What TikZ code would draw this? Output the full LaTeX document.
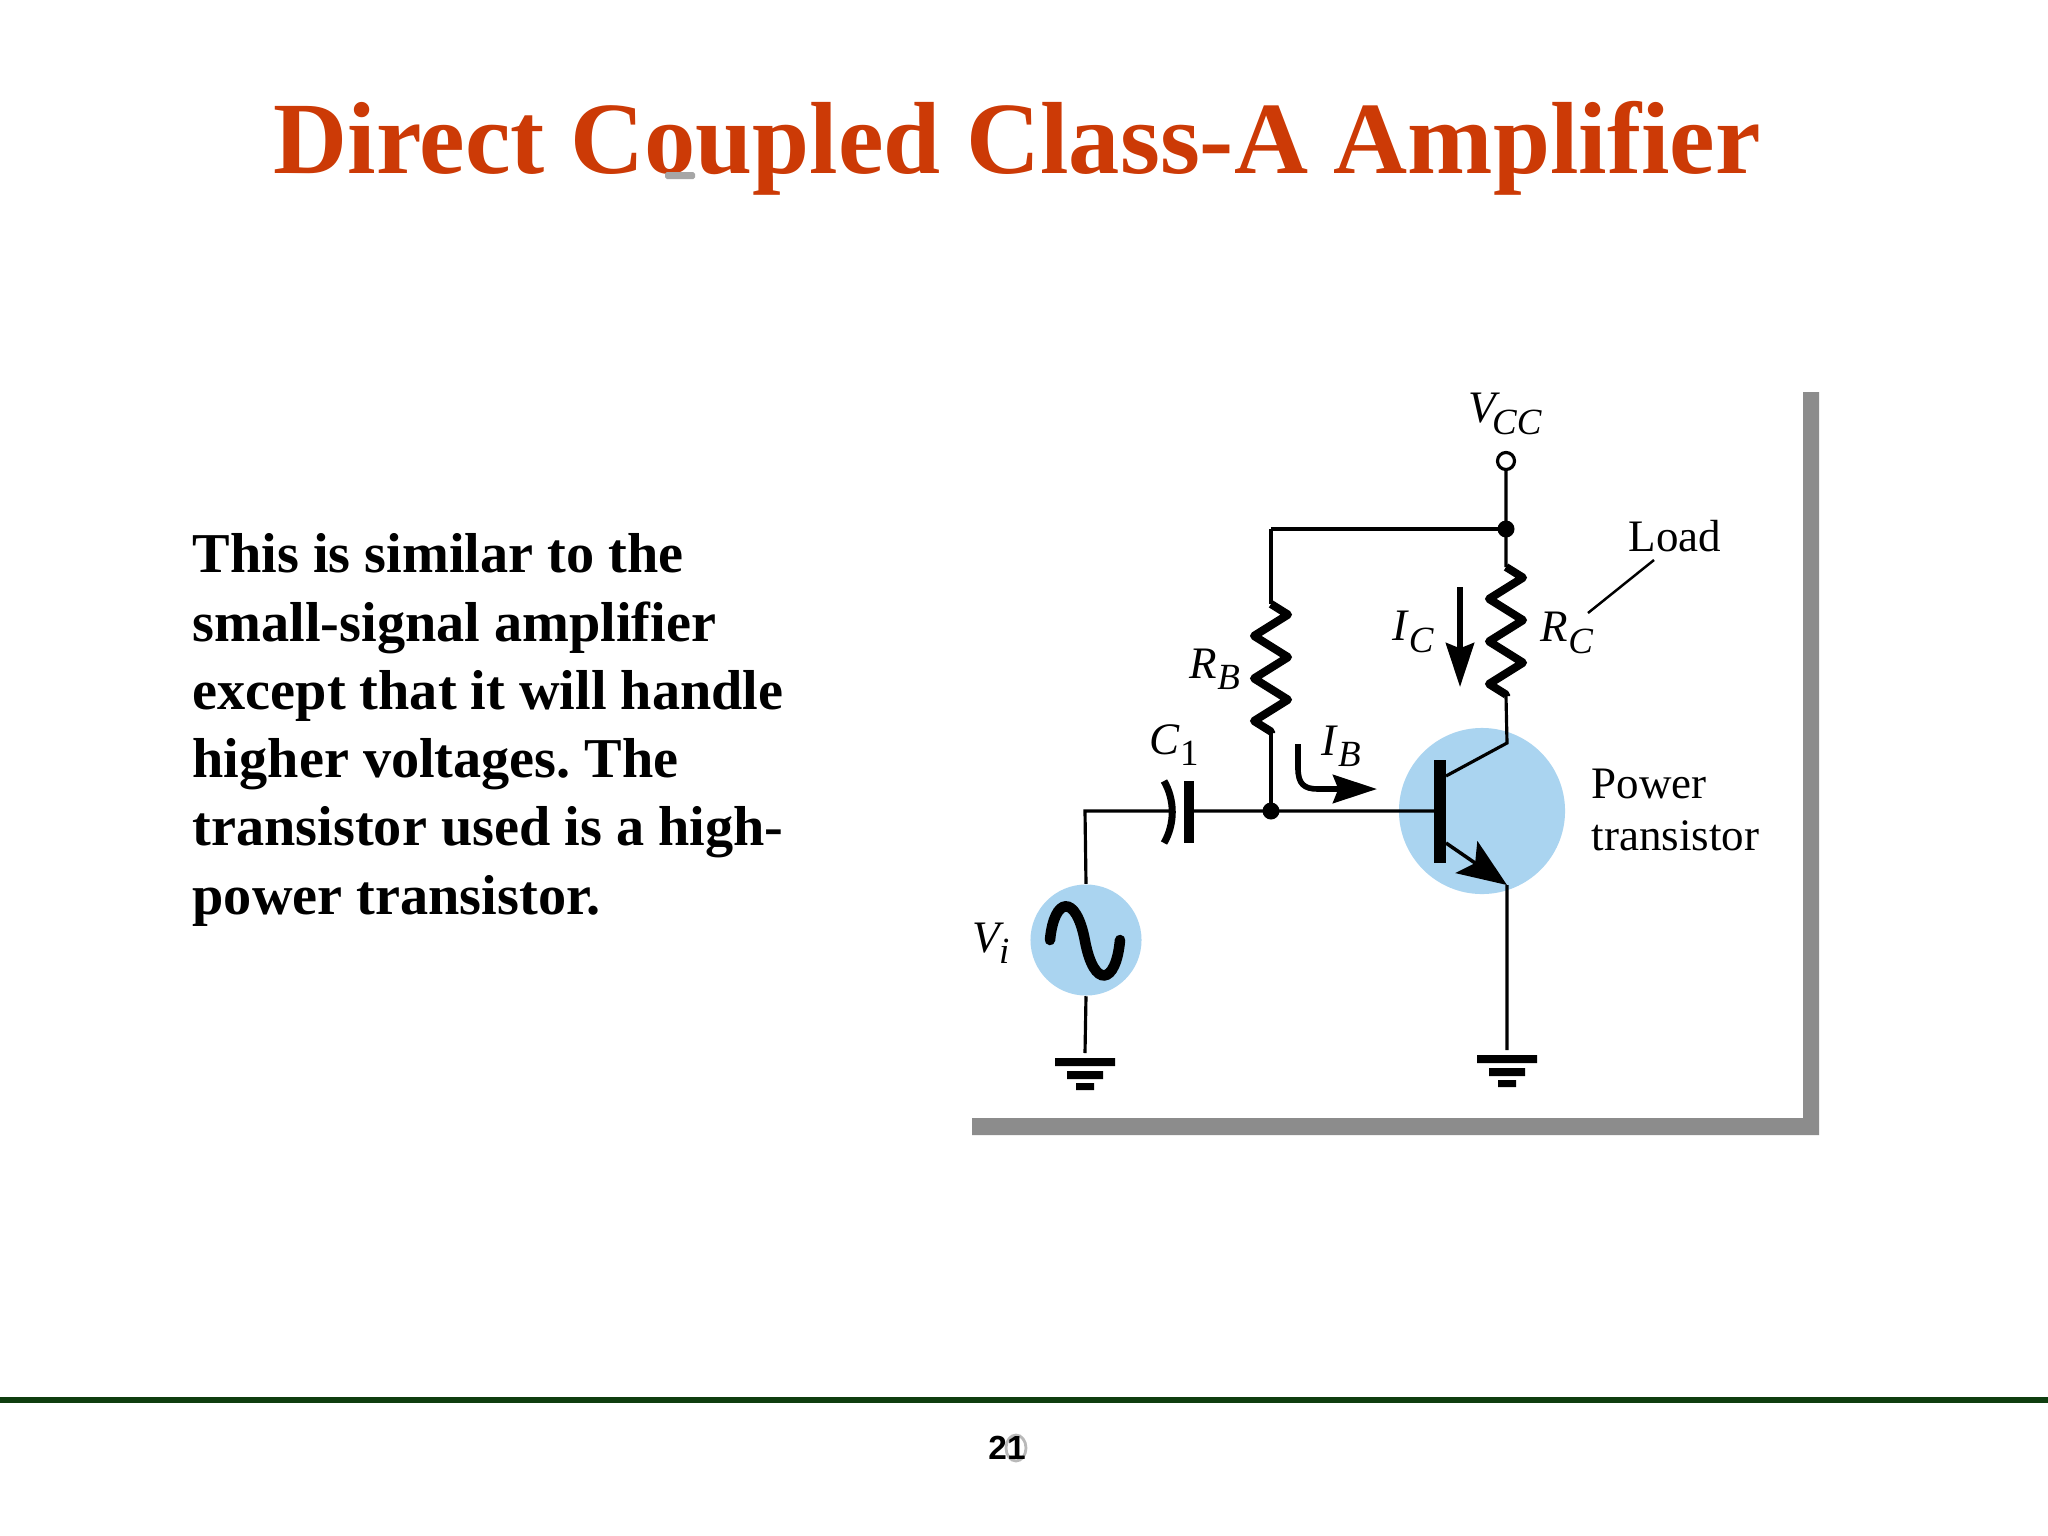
\documentclass[tikz,border=0pt]{standalone}
\usepackage{fontspec}
\setmainfont{Liberation Serif}
\newfontfamily\pagefont{Liberation Sans}
\usetikzlibrary{arrows.meta,decorations.pathmorphing}
\definecolor{titlered}{HTML}{CC3A06}
\definecolor{devblue}{HTML}{AAD4F0}
\definecolor{framegray}{HTML}{8C8C8C}
\definecolor{footgreen}{HTML}{0F3D0F}
\newcommand{\sublab}[2]{\textit{#1}\raisebox{-.55ex}{\fontsize{10.5}{11}\selectfont\textit{#2}}}
\frenchspacing
\tikzset{
  wire/.style={black,line width=.9pt},
  resist/.style={black,line width=2.3pt,line join=round,decorate,
    decoration={zigzag,amplitude=.17cm,segment length=.425cm}},
  devdisc/.style={circle,fill=devblue,inner sep=0pt},
  joint/.style={circle,fill=black,inner sep=0pt,minimum size=.17cm},
  lab/.style={inner sep=0pt,font=\fontsize{12.8}{15}\selectfont},
  curarrow/.style={black,line width=1.6pt,-{Stealth[length=12.5pt,width=8pt,inset=1.5pt]}}
}
\begin{document}
\begin{tikzpicture}[x=.01cm,y=-.01cm]
    \useasboundingbox (0,0) rectangle (2048,1536);
    \fill[white] (0,0) rectangle (2048,1536);
    % slide text
    \node[anchor=base west,inner sep=0pt,text=titlered,font=\fontsize{29.15}{34}\selectfont\bfseries] (title) at (273,173) {Direct Coupled Class-A Amplifier};
    \fill[gray!70,rounded corners=.5pt] (665,172) rectangle (695,179);
    \node[anchor=west,inner sep=0pt,align=left,font=\fontsize{16}{19.4}\selectfont\bfseries] (body) at (192,730) {This is similar to the\\small-signal amplifier\\except that it will handle\\higher voltages. The\\transistor used is a high-\\power transistor.};
    \coordinate (footl) at (0,1400);
    \coordinate (footr) at (2048,1400);
    \draw[footgreen,line width=1.9pt] (footl) -- (footr);
    \draw[gray!55,line width=.8pt] (1016,1448) ellipse (10 and 13);
    \node[anchor=base,inner sep=0pt,font=\pagefont\fontsize{9.5}{11}\selectfont\bfseries] (pagenum) at (1007,1459) {21};
    % frame shadow
    \fill[framegray] (1803,392) rectangle (1819,1135) (972,1118) rectangle (1819,1135);
    % discs
    \node[devdisc,minimum size=1.66cm] (qdisc) at (1482,811) {};
    \node[devdisc,minimum size=1.11cm] (src) at (1086,940) {};
    \foreach \na/\xa/\ya in {vtop/1506/470,jtop/1506/529,rct/1506/567,rcb/1506/696,coll/1507/743,emit/1507/885,gndr/1507/1050,
      rbtop/1271/529,rbt/1271/604,rbb/1271/733,jbase/1271/811,bar/1434/811,basel/1085/811,capa/1173/811,capb/1189/811,gndl/1085/1053,
      colb/1446/776,emib/1446/843,loada/1588/613,loadb/1654/560}{\coordinate (\na) at (\xa,\ya);};
    % wires
    \draw[wire] (vtop) -- (jtop) -- (rct) (rcb) -- (coll) -- (colb);
    \draw[wire] (rbtop) -- (jtop) (rbtop) -- (rbt) (rbb) -- (jbase);
    \draw[wire] (src.north) -- (basel) -- (capa) (capb) -- (jbase) -- (bar);
    \draw[wire] (src.south) -- (gndl) (emit) -- (gndr);
    \draw[resist] (rct) -- (rcb);
    \draw[resist] (rbt) -- (rbb);
    \draw[wire,line width=.7pt] (loada) -- (loadb);
    \node[joint] (jt) at (jtop) {};
    \node[joint] (jb) at (jbase) {};
    \node[circle,draw=black,fill=white,line width=.9pt,inner sep=0pt,minimum size=.17cm] (vcc) at (1506,461) {};
    % capacitor
    \draw[black,line width=2pt] (1164,781) .. controls (1175,800) and (1175,824) .. (1164,843);
    \draw[black,line width=2.6pt] (1189,781) -- (1189,843);
    % transistor
    \fill[black] (1434,760) rectangle (1446,863);
    \draw[black,line width=1pt,-{Stealth[length=14pt,width=11pt,inset=3pt]}] (emib) -- (emit);
    % source
    \draw[black,line width=3pt,line cap=round] (1050,940) .. controls (1054,897) and (1076,893) .. (1085,941) .. controls (1094,989) and (1116,985) .. (1120,940);
    % grounds
    \foreach \gnd in {gndl,gndr}{
      \begin{scope}[shift={(\gnd)}]
        \fill[black] (-30,5) rectangle (30,13) (-18,18) rectangle (18,26) (-9,30) rectangle (9,37);
      \end{scope}};
    % currents
    \draw[curarrow] (1460,587) -- (1460,687);
    \draw[curarrow] (1298,744) -- (1298,768) .. controls (1298,784) and (1304,789) .. (1318,789) -- (1377,789);
    % labels
    \node[lab] (vcclab) at (1505,414) {\sublab{V\kern-.08em}{CC}};
    \node[lab] (iclab) at (1413,632) {\sublab{I}{C}};
    \node[lab] (rclab) at (1567,633) {\sublab{R}{C}};
    \node[lab] (rblab) at (1215,669) {\sublab{R}{B}};
    \node[lab] (c1lab) at (1174,745) {\textit{C}\raisebox{-.55ex}{\fontsize{10.5}{11}\selectfont 1}};
    \node[lab] (iblab) at (1341,746) {\sublab{I}{B}};
    \node[lab] (vilab) at (991,943) {\sublab{V\kern-.02em}{i}};
    \node[lab] (loadlab) at (1675,536) {Load};
    \node[lab,anchor=west] (powlab) at (1591,784) {Power};
    \node[lab,anchor=west] (tranlab) at (1591,836) {transistor};
\end{tikzpicture}
\end{document}
